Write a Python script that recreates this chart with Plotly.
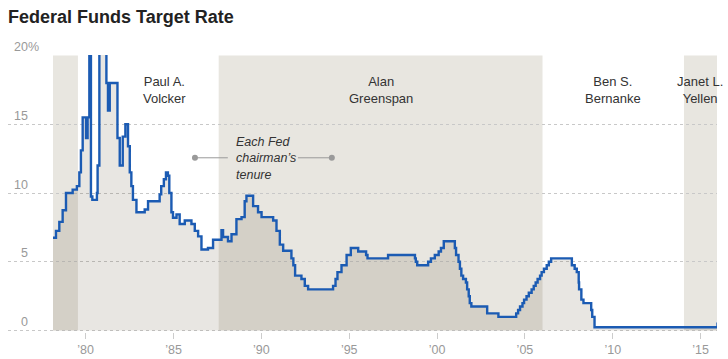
import plotly.graph_objects as go

# ---- data ----
dates = [1978.14, 1978.31, 1978.50, 1978.69, 1978.88, 1979.26, 1979.50, 1979.64, 1979.73, 1979.83,
         1980.02, 1980.11, 1980.21, 1980.30, 1980.38, 1980.64, 1980.68, 1980.78,
         1981.18, 1981.27, 1981.37, 1981.81, 1981.94,
         1982.11, 1982.26, 1982.41, 1982.51, 1982.60, 1982.69, 1982.89,
         1983.36, 1983.55,
         1984.21, 1984.30, 1984.45, 1984.57, 1984.68, 1984.76, 1984.88, 1984.97,
         1985.17, 1985.35, 1985.64,
         1986.02, 1986.21, 1986.40, 1986.59, 1986.96,
         1987.25, 1987.73, 1987.82,
         1988.10, 1988.30, 1988.58, 1988.87,
         1989.05, 1989.15, 1989.53, 1989.81,
         1990.01, 1990.67, 1990.86,
         1991.05, 1991.24, 1991.71, 1991.82, 1991.92,
         1992.28, 1992.47, 1992.66,
         1994.08, 1994.22, 1994.33, 1994.56, 1994.85,
         1995.09, 1995.51, 1995.96,
         1996.04, 1997.21,
         1998.74, 1998.79, 1998.87,
         1999.49, 1999.65, 1999.87,
         2000.09, 2000.22, 2000.38,
         2001.01, 2001.08, 2001.22, 2001.30, 2001.38, 2001.48, 2001.64, 2001.71, 2001.80, 2001.86, 2001.95,
         2002.85, 2003.49,
         2004.50, 2004.61, 2004.72, 2004.86, 2004.95,
         2005.09, 2005.22, 2005.38, 2005.50, 2005.61, 2005.72, 2005.86, 2005.95,
         2006.08, 2006.24, 2006.36, 2006.49,
         2007.67, 2007.83, 2007.95,
         2008.06, 2008.08, 2008.21, 2008.33, 2008.77, 2008.83, 2008.96,
         2015.96, 2016.00]
rates = [6.75, 7.25, 7.9, 8.75, 10.0, 10.25, 10.5, 11.5, 13.1, 15.5,
         14.0, 15.5, 20.5, 9.75, 9.5, 10.0, 12.0, 20.5,
         18.0, 16.0, 18.0, 14.0, 12.0,
         14.1, 15.0, 13.4, 11.5, 10.5, 9.5, 8.6,
         8.8, 9.4,
         9.9, 10.5, 11.0, 11.5, 11.25, 10.0, 8.6, 8.2,
         8.45, 7.75, 8.0,
         7.75, 7.25, 6.85, 5.9, 6.0,
         6.6, 7.3, 6.8,
         6.5, 7.0, 8.1, 8.25,
         9.4, 9.8, 9.05, 8.6,
         8.25, 8.0, 7.25,
         6.25, 5.8, 5.25, 4.75, 4.0,
         3.75, 3.25, 3.0,
         3.25, 3.75, 4.25, 4.75, 5.5,
         6.0, 5.75, 5.5,
         5.25, 5.5,
         5.25, 5.0, 4.75,
         5.0, 5.25, 5.5,
         5.75, 6.0, 6.5,
         6.0, 5.5, 5.0, 4.5, 4.0, 3.75, 3.5, 3.0, 2.5, 2.0, 1.75,
         1.25, 1.0,
         1.25, 1.5, 1.75, 2.0, 2.25,
         2.5, 2.75, 3.0, 3.25, 3.5, 3.75, 4.0, 4.25,
         4.5, 4.75, 5.0, 5.25,
         4.75, 4.5, 4.25,
         3.5, 3.0, 2.25, 2.0, 1.5, 1.0, 0.25,
         0.5, 0.5]

chair_names = ["Paul A.<br>Volcker", "Alan<br>Greenspan", "Ben S.<br>Bernanke", "Janet L.<br>Yellen"]
chair_label_x = [1984.5, 1996.8, 2010.0, 2014.96]
shaded_start = [1978.14, 1987.57, 2014.05]
shaded_end = [1979.56, 2006.0, 2016.5]

x_tickvals = [1980, 1985, 1990, 1995, 2000, 2005, 2010, 2015]
x_ticktext = ["\u201980", "\u201985", "\u201990", "\u201995", "\u201900", "\u201905", "\u201910", "\u201915"]
y_tickvals = [0, 5, 10, 15, 20]
y_ticktext = ["\u20070", "\u20075", "10", "15", "20%"]

X_RANGE = [1975.58, 2015.93]
Y_RANGE = [-0.1, 20.03]

BAND = "#e8e6e0"
LINE = "#1b5bb3"
FONT = "Liberation Sans, Arial, sans-serif"

fig = go.Figure()
fig.add_trace(go.Scatter(
    x=dates, y=rates, mode="lines", line=dict(color=LINE, width=2.4, shape="hv"),
    fill="tozeroy", fillcolor="rgba(90,80,50,0.14)", hoverinfo="skip", showlegend=False))

shapes = []
for s, e in zip(shaded_start, shaded_end):
    shapes.append(dict(type="rect", xref="x", yref="y", x0=s, x1=e, y0=0, y1=20,
                       fillcolor=BAND, line=dict(width=0), layer="below"))

# legend pointer for "Each Fed chairman's tenure"
key_y = 12.56
shapes.append(dict(type="line", xref="x", yref="y", x0=1986.22, x1=1988.09, y0=key_y, y1=key_y,
                   line=dict(color="#9a9a9a", width=1)))
shapes.append(dict(type="line", xref="x", yref="y", x0=1992.08, x1=1994.01, y0=key_y, y1=key_y,
                   line=dict(color="#9a9a9a", width=1)))
for cx in (1986.22, 1994.01):
    shapes.append(dict(type="circle", xref="x", yref="y", xsizemode="pixel", ysizemode="pixel",
                       xanchor=cx, yanchor=key_y, x0=-3, x1=3, y0=-3, y1=3,
                       fillcolor="#9a9a9a", line=dict(width=0)))

annotations = []
for name, cx in zip(chair_names, chair_label_x):
    annotations.append(dict(x=cx, y=17.5, xref="x", yref="y", text=name, showarrow=False,
                            align="center", xanchor="center", yanchor="middle",
                            font=dict(family=FONT, size=13, color="#333333")))
annotations.append(dict(x=1988.42, y=12.49, xref="x", yref="y",
                        text="<i>Each Fed<br>chairman\u2019s<br>tenure</i>", showarrow=False,
                        align="left", xanchor="left", yanchor="middle",
                        font=dict(family=FONT, size=12.5, color="#333333")))

fig.update_layout(
    width=728, height=359,
    margin=dict(l=8, r=11, t=55, b=27, pad=0, autoexpand=False),
    paper_bgcolor="white", plot_bgcolor="white",
    title=dict(text="<b>Federal Funds Target Rate</b>", xref="container", yref="container",
               x=8 / 728, xanchor="left", y=1 - 17 / 359, yanchor="middle",
               font=dict(family=FONT, size=18, color="#222222")),
    shapes=shapes, annotations=annotations,
    xaxis=dict(range=X_RANGE, tickvals=x_tickvals, ticktext=x_ticktext, showgrid=False,
               zeroline=False, showline=False, ticks="outside", ticklen=6, tickcolor="#cccccc",
               automargin=False,
               tickfont=dict(family=FONT, size=12.5, color="#999999")),
    yaxis=dict(range=Y_RANGE, tickvals=y_tickvals, ticktext=y_ticktext, showgrid=True,
               gridcolor="#c8c8c8", griddash="dot", gridwidth=1, zeroline=False, showline=False,
               ticks="", ticklabelposition="inside top", ticklabelstandoff=3,
               ticklabeloverflow="allow", automargin=False,
               tickfont=dict(family=FONT, size=12.5, color="#999999")),
)

fig.write_html("out.html", config={"displayModeBar": False},
               post_script="document.body.style.margin='0';")
